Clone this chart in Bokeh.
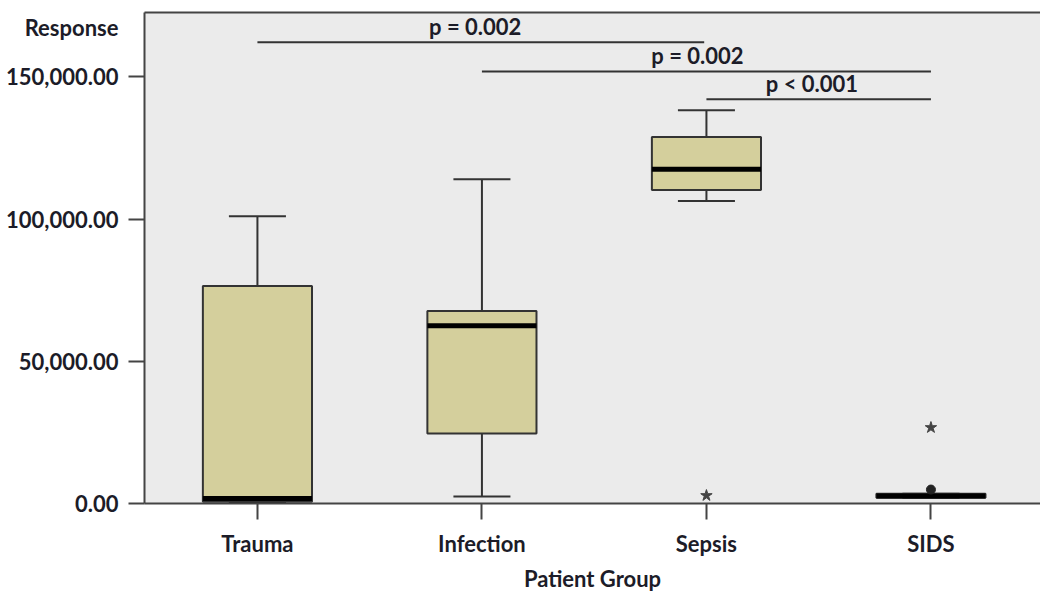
from bokeh.plotting import figure
from bokeh.models import (Range1d, FixedTicker, NumeralTickFormatter, LinearAxis,
                          ColumnDataSource)
from bokeh.embed import file_html
from bokeh.resources import INLINE
from bokeh.core.properties import value

# ---------------- data ----------------
groups = ["Trauma", "Infection", "Sepsis", "SIDS"]
lower_whisker = [200, 2500, 106300, 2000]
q1 = [600, 24600, 110200, 2000]
median = [1800, 62500, 117500, 2600]
q3 = [76500, 67700, 128800, 3400]
upper_whisker = [101000, 114000, 138200, 3400]

# outliers: (group index, value)
star_group = [2, 3]
star_value = [2800, 26700]
dot_group = [3]
dot_value = [4900]

# significance brackets
br_from = [0, 1, 2]
br_to = [1.99, 3, 3]
br_level = [162100, 151900, 142100]
br_text = ["p = 0.002", "p = 0.002", "p < 0.001"]
br_text_x = [0.97, 1.96, 2.47]

y_ticks = [0, 50000, 100000, 150000]
y_title = "Response"
y_title_at = 167400
x_title = "Patient Group"

# ---------------- styling ----------------
FONT = "Lato"
TXT = "#1c1c28"
LINE = "#333333"
BOX = "#D4CF9C"
BG = "#EBEBEB"
FS = "22px"

xs = list(range(len(groups)))

p = figure(width=1040, height=594, output_backend="svg", toolbar_location=None,
           x_range=Range1d(-0.503, 3.488), y_range=Range1d(0, 172600),
           min_border_left=144, min_border_right=0, min_border_top=12,
           min_border_bottom=90)
p.background_fill_color = BG
p.border_fill_color = "white"
p.outline_line_color = None
p.grid.visible = False

# whiskers
p.segment(x0=xs, y0=q3, x1=xs, y1=upper_whisker, line_color=LINE, line_width=2)
p.segment(x0=xs, y0=q1, x1=xs, y1=lower_whisker, line_color=LINE, line_width=2)
cap = 0.127
p.segment(x0=[x - cap for x in xs], y0=upper_whisker, x1=[x + cap for x in xs],
          y1=upper_whisker, line_color=LINE, line_width=2)
p.segment(x0=[x - cap for x in xs], y0=lower_whisker, x1=[x + cap for x in xs],
          y1=lower_whisker, line_color=LINE, line_width=2)
p.segment(x0=[xs[0] - cap], y0=[lower_whisker[0]], x1=[xs[0] + cap],
          y1=[lower_whisker[0]], line_color="black", line_width=5)

# boxes
p.vbar(x=xs, top=q3, bottom=q1, width=0.486, fill_color=BOX, line_color=LINE,
       line_width=2)
# medians
p.segment(x0=[x - 0.243 for x in xs], y0=median, x1=[x + 0.243 for x in xs],
          y1=median, line_color="black", line_width=5)

# outliers
p.scatter(x=star_group, y=star_value, marker="star", size=12,
          fill_color="#444444", line_color="#444444")
p.scatter(x=dot_group, y=dot_value, marker="circle", size=9,
          fill_color="#222222", line_color="#222222")

# brackets
p.segment(x0=br_from, y0=br_level, x1=br_to, y1=br_level, line_color=LINE,
          line_width=2)
src = ColumnDataSource(dict(x=br_text_x, y=[v + 900 for v in br_level], t=br_text))
p.text(x="x", y="y", text="t", source=src, text_font=value(FONT),
       text_font_style="bold", text_font_size=FS, text_color=TXT,
       text_align="center", text_baseline="bottom")

# inner y axis: frame line and tick marks only (as minor ticks, so no labels)
yax = p.yaxis[0]
yax.ticker = FixedTicker(ticks=[], minor_ticks=y_ticks)
yax.minor_tick_out = 16
yax.minor_tick_in = 0
yax.minor_tick_line_color = "#444444"
yax.minor_tick_line_width = 2
yax.major_tick_line_color = None
yax.major_label_standoff = 0
yax.axis_line_color = "#444444"
yax.axis_line_width = 2

# outer y axis: tick labels plus the horizontal title
lab = LinearAxis(ticker=FixedTicker(ticks=y_ticks + [y_title_at]),
                 formatter=NumeralTickFormatter(format="0,0.00"),
                 major_label_overrides={y_title_at: y_title},
                 axis_line_color=None, major_tick_line_color=None,
                 minor_tick_line_color=None, major_tick_out=0, major_tick_in=0,
                 major_label_standoff=10, major_label_text_font=FONT,
                 major_label_text_font_style="bold",
                 major_label_text_font_size=FS, major_label_text_color=TXT)
p.add_layout(lab, "left")

# x axis
xax = p.xaxis[0]
xax.ticker = FixedTicker(ticks=xs)
xax.major_label_overrides = {i: g for i, g in enumerate(groups)}
xax.major_tick_out = 16
xax.major_tick_in = 0
xax.minor_tick_line_color = None
xax.major_label_standoff = 10
xax.axis_line_color = "#444444"
xax.axis_line_width = 2
xax.major_tick_line_color = "#444444"
xax.major_tick_line_width = 2
xax.major_label_text_font = FONT
xax.major_label_text_font_style = "bold"
xax.major_label_text_font_size = FS
xax.major_label_text_color = TXT
xax.axis_label = x_title
xax.axis_label_text_font = FONT
xax.axis_label_text_font_style = "bold"
xax.axis_label_text_font_size = FS
xax.axis_label_text_color = TXT
xax.axis_label_standoff = 5

# top border (no ticks, no labels)
top = LinearAxis(ticker=FixedTicker(ticks=[]), axis_line_color="#444444",
                 axis_line_width=2, major_tick_line_color=None,
                 minor_tick_line_color=None, major_label_standoff=0)
p.add_layout(top, "above")

open("out.html", "w").write(file_html(p, INLINE))
